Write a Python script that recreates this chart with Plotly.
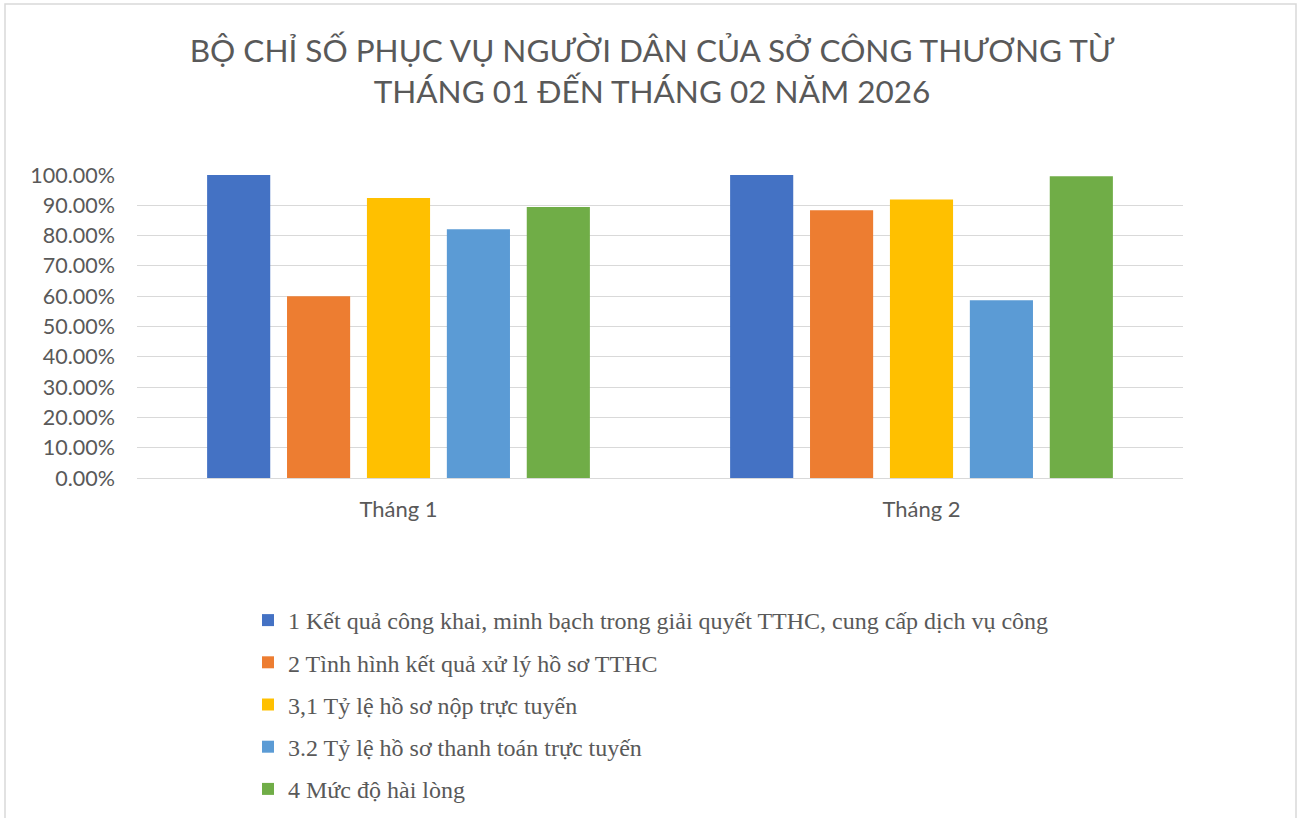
import plotly.graph_objects as go

categories = ["Tháng 1", "Tháng 2"]
series_names = [
    "1 Kết quả công khai, minh bạch trong giải quyết TTHC, cung cấp dịch vụ công",
    "2 Tình hình kết quả xử lý hồ sơ TTHC",
    "3,1 Tỷ lệ hồ sơ nộp trực tuyến",
    "3.2 Tỷ lệ hồ sơ thanh toán trực tuyến",
    "4 Mức độ hài lòng",
]
s1 = [1.00, 1.00]
s2 = [0.60, 0.8835]
s3 = [0.924, 0.919]
s4 = [0.821, 0.587]
s5 = [0.8945, 0.9956]
series_values = [s1, s2, s3, s4, s5]
colors = ["#4472C4", "#ED7D31", "#FFC000", "#5B9BD5", "#70AD47"]
y_ticks = [0, 0.1, 0.2, 0.3, 0.4, 0.5, 0.6, 0.7, 0.8, 0.9, 1.0]

fig = go.Figure()
for i, (name, vals, col) in enumerate(zip(series_names, series_values, colors)):
    fig.add_trace(go.Bar(
        x=categories, y=vals, name=name, marker=dict(color=col, line=dict(width=0)),
        legendgroup=f"g{i}",
    ))

W, H = 1304, 818
ml, mr, mt, mb = 137, 121, 175, 340
pw = W - ml - mr
ph = H - mt - mb

def px2paper_x(px):
    return (px - ml) / pw

def px2paper_y(py):
    return (H - mb - py) / ph

fig.update_layout(
    width=W, height=H,
    margin=dict(l=ml, r=mr, t=mt, b=mb, autoexpand=False),
    paper_bgcolor="white", plot_bgcolor="white",
    barmode="group", bargap=0.236, bargroupgap=0.21,
    title=dict(
        text="BỘ CHỈ SỐ PHỤC VỤ NGƯỜI DÂN CỦA SỞ CÔNG THƯƠNG TỪ<br>THÁNG 01 ĐẾN THÁNG 02 NĂM 2026",
        x=0.5, xanchor="center", yref="container", y=1 - 62 / H, yanchor="middle",
        font=dict(family="Lato, Open Sans, sans-serif", size=31.5, color="#595959"),
    ),
    font=dict(family="Lato, Open Sans, sans-serif", color="#595959"),
    xaxis=dict(
        showgrid=False, showline=True, linecolor="#D9D9D9", linewidth=1,
        tickfont=dict(size=22, color="#595959"), ticks="", ticklabelstandoff=12,
    ),
    yaxis=dict(
        range=[0, 1.0], tickvals=y_ticks, tickformat=".2%",
        showgrid=True, gridcolor="#D9D9D9", gridwidth=1.3,
        zeroline=False, showline=False,
        tickfont=dict(size=21.5, color="#595959"), ticks="", ticklabelstandoff=21,
    ),
    legend=dict(
        orientation="v", x=px2paper_x(248), xanchor="left",
        y=px2paper_y(598), yanchor="top",
        font=dict(family="Liberation Serif, Times New Roman, serif", size=24, color="#595959"),
        traceorder="grouped", tracegroupgap=8, itemwidth=30,
        bgcolor="rgba(0,0,0,0)",
    ),
    shapes=[dict(
        type="rect", xref="paper", yref="paper",
        x0=px2paper_x(5), x1=px2paper_x(1296),
        y0=px2paper_y(840), y1=px2paper_y(4),
        line=dict(color="#D9D9D9", width=1.5), fillcolor="rgba(0,0,0,0)", layer="below",
    )],
)

fig.write_html(
    "out.html",
    config={"displayModeBar": False},
    post_script="document.body.style.margin='0';document.body.style.overflow='hidden';",
)
